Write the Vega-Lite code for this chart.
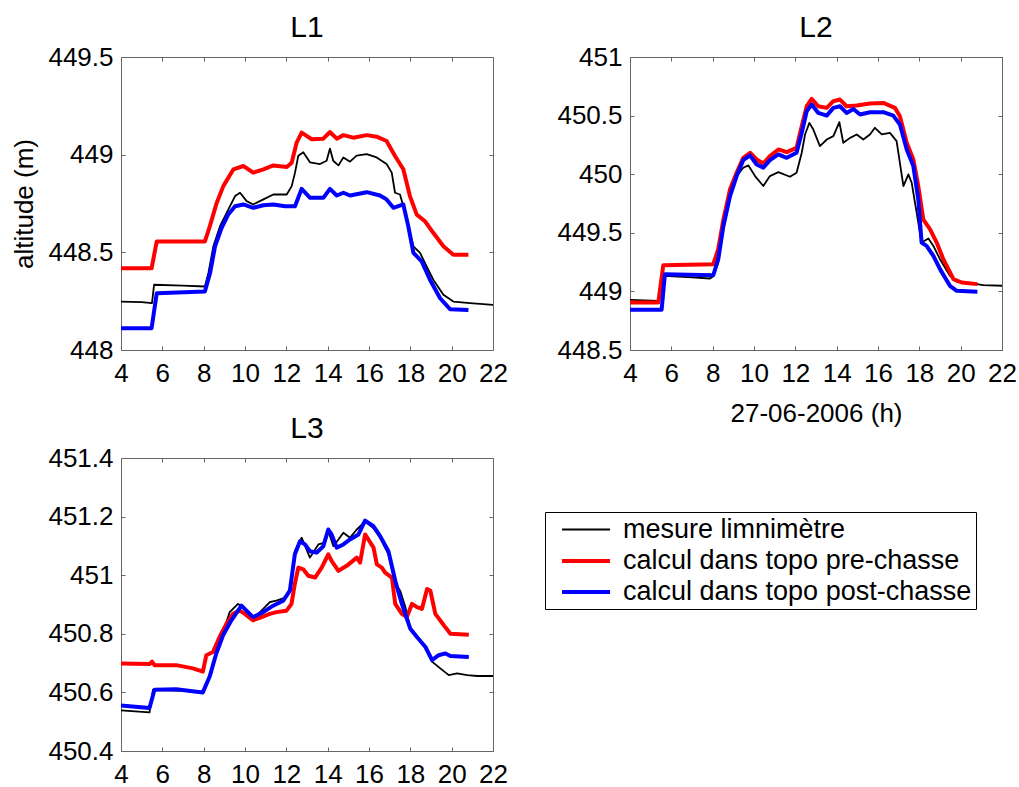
{
  "$schema": "https://vega.github.io/schema/vega-lite/v6.json",
  "background": "white",
  "padding": {"left": 11, "top": 12, "right": 0, "bottom": 0},
  "config": {
    "font": "Liberation Sans",
    "view": {"stroke": "#666666", "strokeWidth": 1},
    "axis": {"grid": false, "domain": false, "tickSize": -4, "tickColor": "#666666", "labelFontSize": 26, "labelColor": "black", "labelFont": "Liberation Sans", "titleFontSize": 26, "titleFontWeight": "normal", "titleColor": "black", "titleFont": "Liberation Sans", "labelOverlap": false, "labelFlush": false},
    "axisX": {"labelPadding": 14, "titlePadding": 14},
    "axisY": {"labelPadding": 12, "titlePadding": 10},
    "title": {"fontSize": 30, "fontWeight": "normal", "font": "Liberation Sans", "color": "black", "baseline": "alphabetic", "offset": 1}
  },
  "datasets": {
    "L1": [
      {"series": "mesure limnimètre", "h": 4, "z": 448.248}, {"series": "mesure limnimètre", "h": 5.0, "z": 448.245}, {"series": "mesure limnimètre", "h": 5.5, "z": 448.24}, {"series": "mesure limnimètre", "h": 5.6, "z": 448.334}, {"series": "mesure limnimètre", "h": 7.0, "z": 448.33}, {"series": "mesure limnimètre", "h": 8.06, "z": 448.325}, {"series": "mesure limnimètre", "h": 8.23, "z": 448.394}, {"series": "mesure limnimètre", "h": 8.47, "z": 448.531}, {"series": "mesure limnimètre", "h": 8.79, "z": 448.634}, {"series": "mesure limnimètre", "h": 9.19, "z": 448.719}, {"series": "mesure limnimètre", "h": 9.52, "z": 448.788}, {"series": "mesure limnimètre", "h": 9.76, "z": 448.805}, {"series": "mesure limnimètre", "h": 10.08, "z": 448.762}, {"series": "mesure limnimètre", "h": 10.4, "z": 448.745}, {"series": "mesure limnimètre", "h": 10.89, "z": 448.771}, {"series": "mesure limnimètre", "h": 11.37, "z": 448.796}, {"series": "mesure limnimètre", "h": 12.02, "z": 448.796}, {"series": "mesure limnimètre", "h": 12.26, "z": 448.839}, {"series": "mesure limnimètre", "h": 12.42, "z": 448.908}, {"series": "mesure limnimètre", "h": 12.58, "z": 448.995}, {"series": "mesure limnimètre", "h": 12.82, "z": 449.012}, {"series": "mesure limnimètre", "h": 13.15, "z": 448.96}, {"series": "mesure limnimètre", "h": 13.63, "z": 448.952}, {"series": "mesure limnimètre", "h": 13.95, "z": 448.969}, {"series": "mesure limnimètre", "h": 14.11, "z": 449.031}, {"series": "mesure limnimètre", "h": 14.27, "z": 448.969}, {"series": "mesure limnimètre", "h": 14.52, "z": 448.945}, {"series": "mesure limnimètre", "h": 14.76, "z": 448.986}, {"series": "mesure limnimètre", "h": 15.08, "z": 448.964}, {"series": "mesure limnimètre", "h": 15.4, "z": 448.995}, {"series": "mesure limnimètre", "h": 15.89, "z": 449.003}, {"series": "mesure limnimètre", "h": 16.37, "z": 448.986}, {"series": "mesure limnimètre", "h": 16.85, "z": 448.952}, {"series": "mesure limnimètre", "h": 17.1, "z": 448.908}, {"series": "mesure limnimètre", "h": 17.26, "z": 448.805}, {"series": "mesure limnimètre", "h": 17.5, "z": 448.796}, {"series": "mesure limnimètre", "h": 17.66, "z": 448.736}, {"series": "mesure limnimètre", "h": 17.9, "z": 448.634}, {"series": "mesure limnimètre", "h": 18.15, "z": 448.531}, {"series": "mesure limnimètre", "h": 18.47, "z": 448.497}, {"series": "mesure limnimètre", "h": 18.79, "z": 448.428}, {"series": "mesure limnimètre", "h": 19.11, "z": 448.36}, {"series": "mesure limnimètre", "h": 19.6, "z": 448.283}, {"series": "mesure limnimètre", "h": 20.08, "z": 448.248}, {"series": "mesure limnimètre", "h": 20.89, "z": 448.24}, {"series": "mesure limnimètre", "h": 22, "z": 448.231},
      {"series": "calcul dans topo pre-chasse", "h": 4, "z": 448.418}, {"series": "calcul dans topo pre-chasse", "h": 5.48, "z": 448.418}, {"series": "calcul dans topo pre-chasse", "h": 5.73, "z": 448.556}, {"series": "calcul dans topo pre-chasse", "h": 8.06, "z": 448.556}, {"series": "calcul dans topo pre-chasse", "h": 8.3, "z": 448.634}, {"series": "calcul dans topo pre-chasse", "h": 8.63, "z": 448.753}, {"series": "calcul dans topo pre-chasse", "h": 8.95, "z": 448.839}, {"series": "calcul dans topo pre-chasse", "h": 9.44, "z": 448.925}, {"series": "calcul dans topo pre-chasse", "h": 9.92, "z": 448.942}, {"series": "calcul dans topo pre-chasse", "h": 10.4, "z": 448.908}, {"series": "calcul dans topo pre-chasse", "h": 10.89, "z": 448.925}, {"series": "calcul dans topo pre-chasse", "h": 11.37, "z": 448.945}, {"series": "calcul dans topo pre-chasse", "h": 12.02, "z": 448.937}, {"series": "calcul dans topo pre-chasse", "h": 12.26, "z": 448.959}, {"series": "calcul dans topo pre-chasse", "h": 12.5, "z": 449.062}, {"series": "calcul dans topo pre-chasse", "h": 12.74, "z": 449.113}, {"series": "calcul dans topo pre-chasse", "h": 12.98, "z": 449.096}, {"series": "calcul dans topo pre-chasse", "h": 13.23, "z": 449.079}, {"series": "calcul dans topo pre-chasse", "h": 13.79, "z": 449.082}, {"series": "calcul dans topo pre-chasse", "h": 14.11, "z": 449.116}, {"series": "calcul dans topo pre-chasse", "h": 14.44, "z": 449.082}, {"series": "calcul dans topo pre-chasse", "h": 14.76, "z": 449.1}, {"series": "calcul dans topo pre-chasse", "h": 15.24, "z": 449.087}, {"series": "calcul dans topo pre-chasse", "h": 15.89, "z": 449.1}, {"series": "calcul dans topo pre-chasse", "h": 16.37, "z": 449.092}, {"series": "calcul dans topo pre-chasse", "h": 16.85, "z": 449.07}, {"series": "calcul dans topo pre-chasse", "h": 17.26, "z": 448.993}, {"series": "calcul dans topo pre-chasse", "h": 17.66, "z": 448.925}, {"series": "calcul dans topo pre-chasse", "h": 17.98, "z": 448.788}, {"series": "calcul dans topo pre-chasse", "h": 18.31, "z": 448.693}, {"series": "calcul dans topo pre-chasse", "h": 18.71, "z": 448.659}, {"series": "calcul dans topo pre-chasse", "h": 19.11, "z": 448.6}, {"series": "calcul dans topo pre-chasse", "h": 19.6, "z": 448.531}, {"series": "calcul dans topo pre-chasse", "h": 20.08, "z": 448.488}, {"series": "calcul dans topo pre-chasse", "h": 20.81, "z": 448.488},
      {"series": "calcul dans topo post-chasse", "h": 4, "z": 448.111}, {"series": "calcul dans topo post-chasse", "h": 5.48, "z": 448.111}, {"series": "calcul dans topo post-chasse", "h": 5.73, "z": 448.291}, {"series": "calcul dans topo post-chasse", "h": 8.06, "z": 448.3}, {"series": "calcul dans topo post-chasse", "h": 8.31, "z": 448.394}, {"series": "calcul dans topo post-chasse", "h": 8.55, "z": 448.531}, {"series": "calcul dans topo post-chasse", "h": 8.87, "z": 448.625}, {"series": "calcul dans topo post-chasse", "h": 9.19, "z": 448.694}, {"series": "calcul dans topo post-chasse", "h": 9.52, "z": 448.736}, {"series": "calcul dans topo post-chasse", "h": 9.92, "z": 448.745}, {"series": "calcul dans topo post-chasse", "h": 10.4, "z": 448.728}, {"series": "calcul dans topo post-chasse", "h": 10.89, "z": 448.741}, {"series": "calcul dans topo post-chasse", "h": 11.37, "z": 448.745}, {"series": "calcul dans topo post-chasse", "h": 11.94, "z": 448.736}, {"series": "calcul dans topo post-chasse", "h": 12.42, "z": 448.736}, {"series": "calcul dans topo post-chasse", "h": 12.74, "z": 448.825}, {"series": "calcul dans topo post-chasse", "h": 13.15, "z": 448.779}, {"series": "calcul dans topo post-chasse", "h": 13.79, "z": 448.779}, {"series": "calcul dans topo post-chasse", "h": 14.11, "z": 448.825}, {"series": "calcul dans topo post-chasse", "h": 14.44, "z": 448.791}, {"series": "calcul dans topo post-chasse", "h": 14.76, "z": 448.805}, {"series": "calcul dans topo post-chasse", "h": 15.08, "z": 448.791}, {"series": "calcul dans topo post-chasse", "h": 15.89, "z": 448.808}, {"series": "calcul dans topo post-chasse", "h": 16.53, "z": 448.791}, {"series": "calcul dans topo post-chasse", "h": 16.85, "z": 448.771}, {"series": "calcul dans topo post-chasse", "h": 17.18, "z": 448.728}, {"series": "calcul dans topo post-chasse", "h": 17.66, "z": 448.745}, {"series": "calcul dans topo post-chasse", "h": 17.9, "z": 448.634}, {"series": "calcul dans topo post-chasse", "h": 18.15, "z": 448.497}, {"series": "calcul dans topo post-chasse", "h": 18.55, "z": 448.454}, {"series": "calcul dans topo post-chasse", "h": 18.95, "z": 448.36}, {"series": "calcul dans topo post-chasse", "h": 19.44, "z": 448.265}, {"series": "calcul dans topo post-chasse", "h": 19.92, "z": 448.209}, {"series": "calcul dans topo post-chasse", "h": 20.81, "z": 448.205}
    ],
    "L2": [
      {"series": "mesure limnimètre", "h": 4, "z": 448.928}, {"series": "mesure limnimètre", "h": 5.4, "z": 448.92}, {"series": "mesure limnimètre", "h": 5.66, "z": 449.133}, {"series": "mesure limnimètre", "h": 7.0, "z": 449.12}, {"series": "mesure limnimètre", "h": 7.87, "z": 449.11}, {"series": "mesure limnimètre", "h": 8.03, "z": 449.13}, {"series": "mesure limnimètre", "h": 8.27, "z": 449.246}, {"series": "mesure limnimètre", "h": 8.52, "z": 449.53}, {"series": "mesure limnimètre", "h": 8.84, "z": 449.8}, {"series": "mesure limnimètre", "h": 9.16, "z": 449.984}, {"series": "mesure limnimètre", "h": 9.48, "z": 450.055}, {"series": "mesure limnimètre", "h": 9.73, "z": 450.075}, {"series": "mesure limnimètre", "h": 10.05, "z": 449.984}, {"series": "mesure limnimètre", "h": 10.45, "z": 449.899}, {"series": "mesure limnimètre", "h": 10.77, "z": 449.984}, {"series": "mesure limnimètre", "h": 11.18, "z": 450.018}, {"series": "mesure limnimètre", "h": 11.74, "z": 449.978}, {"series": "mesure limnimètre", "h": 12.06, "z": 450.012}, {"series": "mesure limnimètre", "h": 12.31, "z": 450.183}, {"series": "mesure limnimètre", "h": 12.47, "z": 450.339}, {"series": "mesure limnimètre", "h": 12.68, "z": 450.438}, {"series": "mesure limnimètre", "h": 12.87, "z": 450.381}, {"series": "mesure limnimètre", "h": 13.19, "z": 450.24}, {"series": "mesure limnimètre", "h": 13.52, "z": 450.296}, {"series": "mesure limnimètre", "h": 13.84, "z": 450.325}, {"series": "mesure limnimètre", "h": 14.13, "z": 450.444}, {"series": "mesure limnimètre", "h": 14.32, "z": 450.268}, {"series": "mesure limnimètre", "h": 14.65, "z": 450.31}, {"series": "mesure limnimètre", "h": 14.97, "z": 450.339}, {"series": "mesure limnimètre", "h": 15.29, "z": 450.296}, {"series": "mesure limnimètre", "h": 15.61, "z": 450.339}, {"series": "mesure limnimètre", "h": 15.85, "z": 450.396}, {"series": "mesure limnimètre", "h": 16.18, "z": 450.339}, {"series": "mesure limnimètre", "h": 16.58, "z": 450.353}, {"series": "mesure limnimètre", "h": 16.9, "z": 450.282}, {"series": "mesure limnimètre", "h": 17.23, "z": 449.899}, {"series": "mesure limnimètre", "h": 17.47, "z": 449.998}, {"series": "mesure limnimètre", "h": 17.63, "z": 449.927}, {"series": "mesure limnimètre", "h": 17.87, "z": 449.672}, {"series": "mesure limnimètre", "h": 18.11, "z": 449.417}, {"series": "mesure limnimètre", "h": 18.44, "z": 449.451}, {"series": "mesure limnimètre", "h": 18.68, "z": 449.388}, {"series": "mesure limnimètre", "h": 19.0, "z": 449.275}, {"series": "mesure limnimètre", "h": 19.48, "z": 449.133}, {"series": "mesure limnimètre", "h": 19.81, "z": 449.082}, {"series": "mesure limnimètre", "h": 20.45, "z": 449.07}, {"series": "mesure limnimètre", "h": 21.1, "z": 449.053}, {"series": "mesure limnimètre", "h": 22, "z": 449.048},
      {"series": "calcul dans topo pre-chasse", "h": 4, "z": 448.906}, {"series": "calcul dans topo pre-chasse", "h": 5.37, "z": 448.906}, {"series": "calcul dans topo pre-chasse", "h": 5.61, "z": 449.224}, {"series": "calcul dans topo pre-chasse", "h": 8.03, "z": 449.232}, {"series": "calcul dans topo pre-chasse", "h": 8.27, "z": 449.36}, {"series": "calcul dans topo pre-chasse", "h": 8.52, "z": 449.615}, {"series": "calcul dans topo pre-chasse", "h": 8.84, "z": 449.871}, {"series": "calcul dans topo pre-chasse", "h": 9.16, "z": 450.012}, {"series": "calcul dans topo pre-chasse", "h": 9.48, "z": 450.14}, {"series": "calcul dans topo pre-chasse", "h": 9.81, "z": 450.183}, {"series": "calcul dans topo pre-chasse", "h": 10.13, "z": 450.126}, {"series": "calcul dans topo pre-chasse", "h": 10.45, "z": 450.092}, {"series": "calcul dans topo pre-chasse", "h": 10.77, "z": 450.154}, {"series": "calcul dans topo pre-chasse", "h": 11.18, "z": 450.211}, {"series": "calcul dans topo pre-chasse", "h": 11.58, "z": 450.188}, {"series": "calcul dans topo pre-chasse", "h": 12.06, "z": 450.225}, {"series": "calcul dans topo pre-chasse", "h": 12.31, "z": 450.41}, {"series": "calcul dans topo pre-chasse", "h": 12.55, "z": 450.58}, {"series": "calcul dans topo pre-chasse", "h": 12.79, "z": 450.642}, {"series": "calcul dans topo pre-chasse", "h": 13.11, "z": 450.58}, {"series": "calcul dans topo pre-chasse", "h": 13.52, "z": 450.566}, {"series": "calcul dans topo pre-chasse", "h": 13.84, "z": 450.623}, {"series": "calcul dans topo pre-chasse", "h": 14.16, "z": 450.637}, {"series": "calcul dans topo pre-chasse", "h": 14.48, "z": 450.58}, {"series": "calcul dans topo pre-chasse", "h": 14.97, "z": 450.586}, {"series": "calcul dans topo pre-chasse", "h": 15.61, "z": 450.603}, {"series": "calcul dans topo pre-chasse", "h": 16.26, "z": 450.608}, {"series": "calcul dans topo pre-chasse", "h": 16.82, "z": 450.566}, {"series": "calcul dans topo pre-chasse", "h": 17.06, "z": 450.495}, {"series": "calcul dans topo pre-chasse", "h": 17.39, "z": 450.268}, {"series": "calcul dans topo pre-chasse", "h": 17.71, "z": 450.126}, {"series": "calcul dans topo pre-chasse", "h": 17.95, "z": 449.899}, {"series": "calcul dans topo pre-chasse", "h": 18.19, "z": 449.615}, {"series": "calcul dans topo pre-chasse", "h": 18.52, "z": 449.53}, {"series": "calcul dans topo pre-chasse", "h": 18.84, "z": 449.417}, {"series": "calcul dans topo pre-chasse", "h": 19.16, "z": 449.275}, {"series": "calcul dans topo pre-chasse", "h": 19.65, "z": 449.104}, {"series": "calcul dans topo pre-chasse", "h": 20.05, "z": 449.076}, {"series": "calcul dans topo pre-chasse", "h": 20.81, "z": 449.062},
      {"series": "calcul dans topo post-chasse", "h": 4, "z": 448.843}, {"series": "calcul dans topo post-chasse", "h": 5.53, "z": 448.843}, {"series": "calcul dans topo post-chasse", "h": 5.69, "z": 449.147}, {"series": "calcul dans topo post-chasse", "h": 8.03, "z": 449.138}, {"series": "calcul dans topo post-chasse", "h": 8.27, "z": 449.275}, {"series": "calcul dans topo post-chasse", "h": 8.52, "z": 449.558}, {"series": "calcul dans topo post-chasse", "h": 8.84, "z": 449.814}, {"series": "calcul dans topo post-chasse", "h": 9.16, "z": 449.984}, {"series": "calcul dans topo post-chasse", "h": 9.48, "z": 450.12}, {"series": "calcul dans topo post-chasse", "h": 9.81, "z": 450.16}, {"series": "calcul dans topo post-chasse", "h": 10.13, "z": 450.083}, {"series": "calcul dans topo post-chasse", "h": 10.45, "z": 450.055}, {"series": "calcul dans topo post-chasse", "h": 10.77, "z": 450.12}, {"series": "calcul dans topo post-chasse", "h": 11.18, "z": 450.169}, {"series": "calcul dans topo post-chasse", "h": 11.58, "z": 450.14}, {"series": "calcul dans topo post-chasse", "h": 12.06, "z": 450.183}, {"series": "calcul dans topo post-chasse", "h": 12.31, "z": 450.353}, {"series": "calcul dans topo post-chasse", "h": 12.55, "z": 450.537}, {"series": "calcul dans topo post-chasse", "h": 12.79, "z": 450.594}, {"series": "calcul dans topo post-chasse", "h": 13.11, "z": 450.523}, {"series": "calcul dans topo post-chasse", "h": 13.52, "z": 450.5}, {"series": "calcul dans topo post-chasse", "h": 13.84, "z": 450.566}, {"series": "calcul dans topo post-chasse", "h": 14.16, "z": 450.58}, {"series": "calcul dans topo post-chasse", "h": 14.48, "z": 450.523}, {"series": "calcul dans topo post-chasse", "h": 14.81, "z": 450.557}, {"series": "calcul dans topo post-chasse", "h": 15.13, "z": 450.509}, {"series": "calcul dans topo post-chasse", "h": 15.61, "z": 450.529}, {"series": "calcul dans topo post-chasse", "h": 16.26, "z": 450.529}, {"series": "calcul dans topo post-chasse", "h": 16.74, "z": 450.5}, {"series": "calcul dans topo post-chasse", "h": 17.06, "z": 450.424}, {"series": "calcul dans topo post-chasse", "h": 17.39, "z": 450.211}, {"series": "calcul dans topo post-chasse", "h": 17.71, "z": 450.069}, {"series": "calcul dans topo post-chasse", "h": 17.95, "z": 449.785}, {"series": "calcul dans topo post-chasse", "h": 18.11, "z": 449.417}, {"series": "calcul dans topo post-chasse", "h": 18.35, "z": 449.388}, {"series": "calcul dans topo post-chasse", "h": 18.68, "z": 449.303}, {"series": "calcul dans topo post-chasse", "h": 19.0, "z": 449.19}, {"series": "calcul dans topo post-chasse", "h": 19.48, "z": 449.048}, {"series": "calcul dans topo post-chasse", "h": 19.81, "z": 449.005}, {"series": "calcul dans topo post-chasse", "h": 20.81, "z": 448.997}
    ],
    "L3": [
      {"series": "mesure limnimètre", "h": 4, "z": 450.539}, {"series": "mesure limnimètre", "h": 5.38, "z": 450.532}, {"series": "mesure limnimètre", "h": 5.55, "z": 450.609}, {"series": "mesure limnimètre", "h": 7.0, "z": 450.605}, {"series": "mesure limnimètre", "h": 7.96, "z": 450.6}, {"series": "mesure limnimètre", "h": 8.29, "z": 450.654}, {"series": "mesure limnimètre", "h": 8.61, "z": 450.733}, {"series": "mesure limnimètre", "h": 8.94, "z": 450.806}, {"series": "mesure limnimètre", "h": 9.26, "z": 450.874}, {"series": "mesure limnimètre", "h": 9.66, "z": 450.902}, {"series": "mesure limnimètre", "h": 9.91, "z": 450.891}, {"series": "mesure limnimètre", "h": 10.39, "z": 450.851}, {"series": "mesure limnimètre", "h": 10.88, "z": 450.885}, {"series": "mesure limnimètre", "h": 11.2, "z": 450.908}, {"series": "mesure limnimètre", "h": 11.52, "z": 450.913}, {"series": "mesure limnimètre", "h": 12.01, "z": 450.925}, {"series": "mesure limnimètre", "h": 12.25, "z": 450.97}, {"series": "mesure limnimètre", "h": 12.41, "z": 451.082}, {"series": "mesure limnimètre", "h": 12.74, "z": 451.128}, {"series": "mesure limnimètre", "h": 13.14, "z": 451.06}, {"series": "mesure limnimètre", "h": 13.55, "z": 451.105}, {"series": "mesure limnimètre", "h": 13.87, "z": 451.111}, {"series": "mesure limnimètre", "h": 14.03, "z": 451.15}, {"series": "mesure limnimètre", "h": 14.28, "z": 451.099}, {"series": "mesure limnimètre", "h": 14.76, "z": 451.145}, {"series": "mesure limnimètre", "h": 15.08, "z": 451.128}, {"series": "mesure limnimètre", "h": 15.41, "z": 451.156}, {"series": "mesure limnimètre", "h": 15.81, "z": 451.184}, {"series": "mesure limnimètre", "h": 16.22, "z": 451.16}, {"series": "mesure limnimètre", "h": 16.54, "z": 451.128}, {"series": "mesure limnimètre", "h": 16.94, "z": 451.071}, {"series": "mesure limnimètre", "h": 17.27, "z": 450.97}, {"series": "mesure limnimètre", "h": 17.51, "z": 450.947}, {"series": "mesure limnimètre", "h": 17.76, "z": 450.891}, {"series": "mesure limnimètre", "h": 18.0, "z": 450.817}, {"series": "mesure limnimètre", "h": 18.32, "z": 450.789}, {"series": "mesure limnimètre", "h": 18.73, "z": 450.755}, {"series": "mesure limnimètre", "h": 19.05, "z": 450.705}, {"series": "mesure limnimètre", "h": 19.45, "z": 450.682}, {"series": "mesure limnimètre", "h": 19.86, "z": 450.659}, {"series": "mesure limnimètre", "h": 20.26, "z": 450.665}, {"series": "mesure limnimètre", "h": 20.75, "z": 450.659}, {"series": "mesure limnimètre", "h": 21.23, "z": 450.656}, {"series": "mesure limnimètre", "h": 22, "z": 450.656},
      {"series": "calcul dans topo pre-chasse", "h": 4, "z": 450.699}, {"series": "calcul dans topo pre-chasse", "h": 5.38, "z": 450.697}, {"series": "calcul dans topo pre-chasse", "h": 5.5, "z": 450.705}, {"series": "calcul dans topo pre-chasse", "h": 5.62, "z": 450.693}, {"series": "calcul dans topo pre-chasse", "h": 6.67, "z": 450.693}, {"series": "calcul dans topo pre-chasse", "h": 7.48, "z": 450.682}, {"series": "calcul dans topo pre-chasse", "h": 7.96, "z": 450.671}, {"series": "calcul dans topo pre-chasse", "h": 8.13, "z": 450.727}, {"series": "calcul dans topo pre-chasse", "h": 8.45, "z": 450.738}, {"series": "calcul dans topo pre-chasse", "h": 8.77, "z": 450.789}, {"series": "calcul dans topo pre-chasse", "h": 9.1, "z": 450.834}, {"series": "calcul dans topo pre-chasse", "h": 9.42, "z": 450.868}, {"series": "calcul dans topo pre-chasse", "h": 9.74, "z": 450.879}, {"series": "calcul dans topo pre-chasse", "h": 9.99, "z": 450.868}, {"series": "calcul dans topo pre-chasse", "h": 10.39, "z": 450.846}, {"series": "calcul dans topo pre-chasse", "h": 10.8, "z": 450.857}, {"series": "calcul dans topo pre-chasse", "h": 11.2, "z": 450.868}, {"series": "calcul dans topo pre-chasse", "h": 11.52, "z": 450.874}, {"series": "calcul dans topo pre-chasse", "h": 12.01, "z": 450.879}, {"series": "calcul dans topo pre-chasse", "h": 12.25, "z": 450.902}, {"series": "calcul dans topo pre-chasse", "h": 12.41, "z": 450.97}, {"series": "calcul dans topo pre-chasse", "h": 12.58, "z": 451.026}, {"series": "calcul dans topo pre-chasse", "h": 12.82, "z": 451.02}, {"series": "calcul dans topo pre-chasse", "h": 13.06, "z": 450.998}, {"series": "calcul dans topo pre-chasse", "h": 13.39, "z": 450.992}, {"series": "calcul dans topo pre-chasse", "h": 13.71, "z": 451.026}, {"series": "calcul dans topo pre-chasse", "h": 14.03, "z": 451.071}, {"series": "calcul dans topo pre-chasse", "h": 14.19, "z": 451.049}, {"series": "calcul dans topo pre-chasse", "h": 14.52, "z": 451.015}, {"series": "calcul dans topo pre-chasse", "h": 14.92, "z": 451.032}, {"series": "calcul dans topo pre-chasse", "h": 15.41, "z": 451.06}, {"series": "calcul dans topo pre-chasse", "h": 15.57, "z": 451.043}, {"series": "calcul dans topo pre-chasse", "h": 15.81, "z": 451.139}, {"series": "calcul dans topo pre-chasse", "h": 15.97, "z": 451.122}, {"series": "calcul dans topo pre-chasse", "h": 16.22, "z": 451.094}, {"series": "calcul dans topo pre-chasse", "h": 16.38, "z": 451.037}, {"series": "calcul dans topo pre-chasse", "h": 16.62, "z": 451.026}, {"series": "calcul dans topo pre-chasse", "h": 16.78, "z": 451.009}, {"series": "calcul dans topo pre-chasse", "h": 17.11, "z": 450.992}, {"series": "calcul dans topo pre-chasse", "h": 17.27, "z": 450.902}, {"series": "calcul dans topo pre-chasse", "h": 17.59, "z": 450.868}, {"series": "calcul dans topo pre-chasse", "h": 17.83, "z": 450.857}, {"series": "calcul dans topo pre-chasse", "h": 18.08, "z": 450.902}, {"series": "calcul dans topo pre-chasse", "h": 18.32, "z": 450.891}, {"series": "calcul dans topo pre-chasse", "h": 18.56, "z": 450.885}, {"series": "calcul dans topo pre-chasse", "h": 18.81, "z": 450.953}, {"series": "calcul dans topo pre-chasse", "h": 18.97, "z": 450.947}, {"series": "calcul dans topo pre-chasse", "h": 19.21, "z": 450.868}, {"series": "calcul dans topo pre-chasse", "h": 19.62, "z": 450.829}, {"series": "calcul dans topo pre-chasse", "h": 19.94, "z": 450.8}, {"series": "calcul dans topo pre-chasse", "h": 20.83, "z": 450.797},
      {"series": "calcul dans topo post-chasse", "h": 4, "z": 450.555}, {"series": "calcul dans topo post-chasse", "h": 5.38, "z": 450.547}, {"series": "calcul dans topo post-chasse", "h": 5.62, "z": 450.609}, {"series": "calcul dans topo post-chasse", "h": 6.67, "z": 450.611}, {"series": "calcul dans topo post-chasse", "h": 7.96, "z": 450.6}, {"series": "calcul dans topo post-chasse", "h": 8.29, "z": 450.654}, {"series": "calcul dans topo post-chasse", "h": 8.61, "z": 450.733}, {"series": "calcul dans topo post-chasse", "h": 8.94, "z": 450.795}, {"series": "calcul dans topo post-chasse", "h": 9.34, "z": 450.846}, {"series": "calcul dans topo post-chasse", "h": 9.83, "z": 450.896}, {"series": "calcul dans topo post-chasse", "h": 10.07, "z": 450.879}, {"series": "calcul dans topo post-chasse", "h": 10.39, "z": 450.857}, {"series": "calcul dans topo post-chasse", "h": 10.88, "z": 450.874}, {"series": "calcul dans topo post-chasse", "h": 11.36, "z": 450.896}, {"series": "calcul dans topo post-chasse", "h": 11.85, "z": 450.913}, {"series": "calcul dans topo post-chasse", "h": 12.17, "z": 450.947}, {"series": "calcul dans topo post-chasse", "h": 12.41, "z": 451.071}, {"series": "calcul dans topo post-chasse", "h": 12.66, "z": 451.116}, {"series": "calcul dans topo post-chasse", "h": 12.9, "z": 451.105}, {"series": "calcul dans topo post-chasse", "h": 13.14, "z": 451.082}, {"series": "calcul dans topo post-chasse", "h": 13.47, "z": 451.077}, {"series": "calcul dans topo post-chasse", "h": 13.79, "z": 451.099}, {"series": "calcul dans topo post-chasse", "h": 14.03, "z": 451.156}, {"series": "calcul dans topo post-chasse", "h": 14.19, "z": 451.139}, {"series": "calcul dans topo post-chasse", "h": 14.44, "z": 451.094}, {"series": "calcul dans topo post-chasse", "h": 14.76, "z": 451.105}, {"series": "calcul dans topo post-chasse", "h": 15.08, "z": 451.122}, {"series": "calcul dans topo post-chasse", "h": 15.49, "z": 451.139}, {"series": "calcul dans topo post-chasse", "h": 15.81, "z": 451.186}, {"series": "calcul dans topo post-chasse", "h": 16.22, "z": 451.167}, {"series": "calcul dans topo post-chasse", "h": 16.54, "z": 451.133}, {"series": "calcul dans topo post-chasse", "h": 16.94, "z": 451.082}, {"series": "calcul dans topo post-chasse", "h": 17.27, "z": 450.981}, {"series": "calcul dans topo post-chasse", "h": 17.59, "z": 450.902}, {"series": "calcul dans topo post-chasse", "h": 18.0, "z": 450.817}, {"series": "calcul dans topo post-chasse", "h": 18.32, "z": 450.789}, {"series": "calcul dans topo post-chasse", "h": 18.73, "z": 450.755}, {"series": "calcul dans topo post-chasse", "h": 19.05, "z": 450.71}, {"series": "calcul dans topo post-chasse", "h": 19.37, "z": 450.727}, {"series": "calcul dans topo post-chasse", "h": 19.7, "z": 450.733}, {"series": "calcul dans topo post-chasse", "h": 19.94, "z": 450.724}, {"series": "calcul dans topo post-chasse", "h": 20.83, "z": 450.721}
    ]
  },
  "columns": 2,
  "bounds": "flush",
  "spacing": {"row": 108, "column": 137},
  "resolve": {"scale": {"color": "independent", "strokeWidth": "independent"}, "legend": {"color": "independent", "strokeWidth": "independent"}},
  "concat": [
    {
      "title": "L1",
      "width": 372,
      "height": 293,
      "data": {"name": "L1"},
      "resolve": {"axis": {"x": "independent", "y": "independent"}},
      "layer": [
        {
          "mark": {"type": "line", "strokeJoin": "round"},
          "encoding": {
            "x": {"field": "h", "type": "quantitative", "scale": {"domain": [4, 22], "nice": false}, "axis": {"values": [4, 6, 8, 10, 12, 14, 16, 18, 20, 22], "title": null}},
            "y": {"field": "z", "type": "quantitative", "scale": {"domain": [448, 449.5], "nice": false, "zero": false}, "axis": {"values": [448, 448.5, 449, 449.5], "labelExpr": "'' + datum.value", "title": "altitude (m)"}},
            "color": {"field": "series", "type": "nominal", "scale": {"domain": ["mesure limnimètre", "calcul dans topo pre-chasse", "calcul dans topo post-chasse"], "range": ["#000000", "#ff0000", "#0000ff"]}, "legend": null},
            "strokeWidth": {"field": "series", "type": "nominal", "scale": {"type": "ordinal", "domain": ["mesure limnimètre", "calcul dans topo pre-chasse", "calcul dans topo post-chasse"], "range": [1.8, 4, 4]}, "legend": null}
          }
        },
        {
          "mark": {"type": "point", "opacity": 0},
          "encoding": {
            "x": {"field": "h", "type": "quantitative", "axis": {"orient": "top", "labels": false, "values": [4, 6, 8, 10, 12, 14, 16, 18, 20, 22], "title": null}},
            "y": {"field": "z", "type": "quantitative", "axis": {"orient": "right", "labels": false, "values": [448, 448.5, 449, 449.5], "title": null}}
          }
        }
      ]
    },
    {
      "title": "L2",
      "width": 372,
      "height": 293,
      "data": {"name": "L2"},
      "resolve": {"axis": {"x": "independent", "y": "independent"}},
      "layer": [
        {
          "mark": {"type": "line", "strokeJoin": "round"},
          "encoding": {
            "x": {"field": "h", "type": "quantitative", "scale": {"domain": [4, 22], "nice": false}, "axis": {"values": [4, 6, 8, 10, 12, 14, 16, 18, 20, 22], "title": "27-06-2006 (h)"}},
            "y": {"field": "z", "type": "quantitative", "scale": {"domain": [448.5, 451], "nice": false, "zero": false}, "axis": {"values": [448.5, 449, 449.5, 450, 450.5, 451], "labelExpr": "'' + datum.value", "title": null}},
            "color": {"field": "series", "type": "nominal", "scale": {"domain": ["mesure limnimètre", "calcul dans topo pre-chasse", "calcul dans topo post-chasse"], "range": ["#000000", "#ff0000", "#0000ff"]}, "legend": null},
            "strokeWidth": {"field": "series", "type": "nominal", "scale": {"type": "ordinal", "domain": ["mesure limnimètre", "calcul dans topo pre-chasse", "calcul dans topo post-chasse"], "range": [1.8, 4, 4]}, "legend": null}
          }
        },
        {
          "mark": {"type": "point", "opacity": 0},
          "encoding": {
            "x": {"field": "h", "type": "quantitative", "axis": {"orient": "top", "labels": false, "values": [4, 6, 8, 10, 12, 14, 16, 18, 20, 22], "title": null}},
            "y": {"field": "z", "type": "quantitative", "axis": {"orient": "right", "labels": false, "values": [448.5, 449, 449.5, 450, 450.5, 451], "title": null}}
          }
        }
      ]
    },
    {
      "title": "L3",
      "width": 372,
      "height": 293,
      "data": {"name": "L3"},
      "resolve": {"axis": {"x": "independent", "y": "independent"}},
      "layer": [
        {
          "mark": {"type": "line", "strokeJoin": "round"},
          "encoding": {
            "x": {"field": "h", "type": "quantitative", "scale": {"domain": [4, 22], "nice": false}, "axis": {"values": [4, 6, 8, 10, 12, 14, 16, 18, 20, 22], "title": null}},
            "y": {"field": "z", "type": "quantitative", "scale": {"domain": [450.4, 451.4], "nice": false, "zero": false}, "axis": {"values": [450.4, 450.6, 450.8, 451, 451.2, 451.4], "labelExpr": "'' + datum.value", "title": null}},
            "color": {"field": "series", "type": "nominal", "scale": {"domain": ["mesure limnimètre", "calcul dans topo pre-chasse", "calcul dans topo post-chasse"], "range": ["#000000", "#ff0000", "#0000ff"]}, "legend": {"orient": "none", "legendX": 424, "legendY": 54, "title": null, "labelFontSize": 27, "labelColor": "black", "labelFont": "Liberation Sans", "labelLimit": 600, "symbolType": "M-0.083,0H3.917", "symbolSize": 576, "strokeColor": "black", "fillColor": "white", "padding": 4, "labelOffset": 46, "rowPadding": 4}},
            "strokeWidth": {"field": "series", "type": "nominal", "scale": {"type": "ordinal", "domain": ["mesure limnimètre", "calcul dans topo pre-chasse", "calcul dans topo post-chasse"], "range": [1.8, 4, 4]}, "legend": {"orient": "none", "legendX": 424, "legendY": 54, "title": null, "labelFontSize": 27, "labelColor": "black", "labelFont": "Liberation Sans", "labelLimit": 600, "symbolType": "M-0.083,0H3.917", "symbolSize": 576, "strokeColor": "black", "fillColor": "white", "padding": 4, "labelOffset": 46, "rowPadding": 4}}
          }
        },
        {
          "mark": {"type": "point", "opacity": 0},
          "encoding": {
            "x": {"field": "h", "type": "quantitative", "axis": {"orient": "top", "labels": false, "values": [4, 6, 8, 10, 12, 14, 16, 18, 20, 22], "title": null}},
            "y": {"field": "z", "type": "quantitative", "axis": {"orient": "right", "labels": false, "values": [450.4, 450.6, 450.8, 451, 451.2, 451.4], "title": null}}
          }
        }
      ]
    }
  ]
}
